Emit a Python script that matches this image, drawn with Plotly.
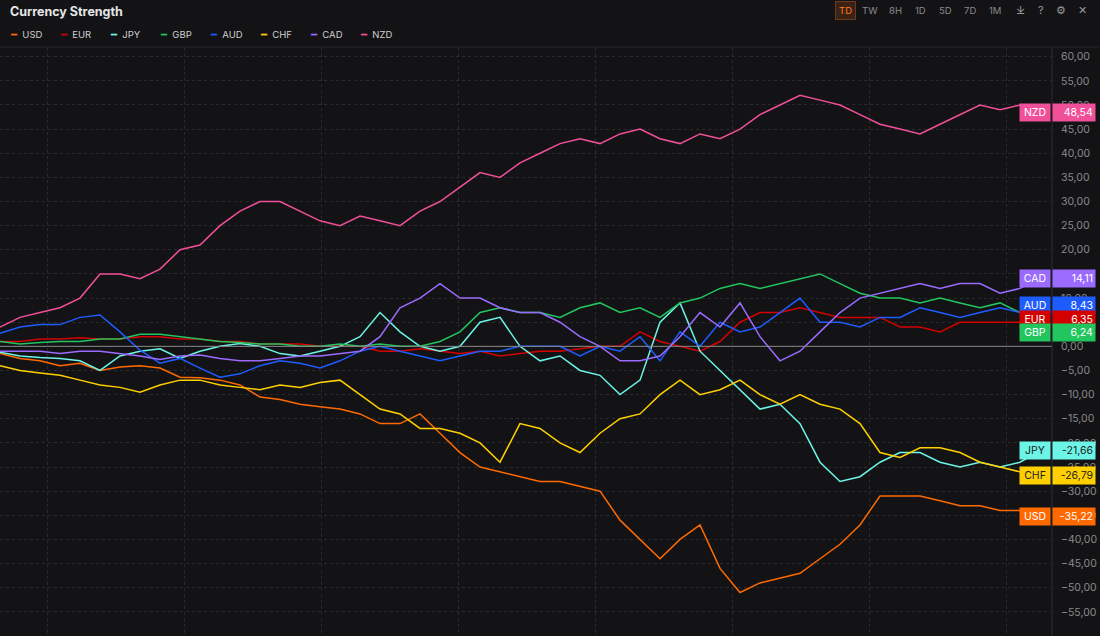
import plotly.graph_objects as go

# sampled every ~20px across the chart
currencies = ["USD", "EUR", "JPY", "GBP", "AUD", "CHF", "CAD", "NZD"]
colors = ["#ff6a00", "#d40000", "#6cf5e6", "#22c55e", "#1f5cff", "#ffd000", "#9b6bff", "#f0509a"]

usd = [-1.5, -2.5, -3, -4, -3.5, -5, -4.3, -4, -4.5, -6.4, -6.5, -7, -8, -10.5, -11, -12, -12.5, -13,
       -14, -16, -16, -14, -18, -22, -25, -26, -27, -28, -28, -29, -30, -36, -40, -44, -40, -37, -46,
       -51, -49, -48, -47, -44, -41, -37, -31, -31, -31, -32, -33, -33, -34, -34, -35.22]
eur = [1, 1, 1.5, 1.5, 1.8, 1.5, 1.5, 2, 2, 1.5, 1.5, 1, 1, 0.5, 0.5, 0.5, 0, 0, 0, -1, -1, -0.5,
       -1, -1.5, -1, -2, -1.5, -1, -1, -0.5, 0, 0, 3, 1, 0, -1, 1, 5, 7, 7, 8, 7, 6, 6, 6, 4, 4, 3,
       5, 5, 5, 5, 6.35]
jpy = [-1.2, -2, -2.3, -2.5, -3, -5, -2, -1, -0.5, -2.5, -1, 0, 0.6, 0, -1.5, -2, -1, 0, 2, 7, 3,
       0, -1, 0, 5, 6, 0, -3, -2, -5, -6, -10, -7, 5, 9, -1, -5, -9, -13, -12, -16, -24, -28, -27,
       -24, -22, -22, -24, -25, -24, -25, -24, -21.66]
gbp = [1, 0.5, 0.8, 1, 1, 1.5, 1.5, 2.5, 2.5, 2, 1.5, 1, 0.8, 0.5, 0.5, 0, 0, 0.5, 0, 0.5, 0, 0,
       1, 3, 7, 8, 7, 7, 6, 8, 9, 7, 8, 6, 9, 10, 12, 13, 12, 13, 14, 15, 13, 11, 10, 10, 9, 10, 9,
       8, 9, 7, 6.24]
aud = [2.7, 4, 4.5, 4.5, 6, 6.5, 3, -0.8, -3.5, -2.5, -4.5, -6.4, -5.7, -4, -3, -3.5, -4.5, -3,
       -1, 0, -1, -2, -3, -2, -1, -1, 0, 0, 0, -2, 0, -1, 2, -3, 3, 0, 5, 3, 4, 7, 10, 5, 5, 4, 6,
       6, 8, 7, 6, 7, 8, 7, 8.43]
chf = [-4, -5, -5.5, -6, -7, -8, -8.5, -9.5, -8, -7, -7, -8, -8.5, -9, -8, -8.5, -7.5, -7, -10,
       -13, -14, -17, -17, -18, -20, -24, -16, -17, -20, -22, -18, -15, -14, -10, -7, -10, -9, -7,
       -10, -12, -10, -12, -13, -16, -22, -23, -21, -21, -22, -24, -25, -26, -26.79]
cad = [-1, -1, -1, -1.5, -1, -1, -1.5, -2, -2.7, -2, -1.8, -2.5, -3, -3, -2.5, -2, -2, -1.5, -1,
       2, 8, 10, 13, 10, 10, 8, 7, 7, 5, 2, 0, -3, -3, -2, 2, 7, 4, 9, 2, -3, -1, 3, 7, 10, 11, 12,
       13, 12, 13, 13, 11, 12, 14.11]
nzd = [4, 6, 7, 8, 10, 15, 15, 14, 16, 20, 21, 25, 28, 30, 30, 28, 26, 25, 27, 26, 25, 28, 30,
       33, 36, 35, 38, 40, 42, 43, 42, 44, 45, 43, 42, 44, 43, 45, 48, 50, 52, 51, 50, 48, 46, 45,
       44, 46, 48, 50, 49, 50, 48.54]
series = [usd, eur, jpy, gbp, aud, chf, cad, nzd]

toolbar = ["TD", "TW", "8H", "1D", "5D", "7D", "1M"]

BG = "#131316"
GRID = "#2a2a2f"
YMIN, YMAX = -60.0, 61.8
W, H = 1100, 636
PLOT_TOP, PLOT_RIGHT = 48, 1052


def px_x(p):
    return p / PLOT_RIGHT


def px_y(p):
    return (H - p) / (H - PLOT_TOP)


fig = go.Figure()
for name, col, vals in zip(currencies, colors, series):
    fig.add_trace(go.Scatter(x=list(range(len(vals))), y=vals, mode="lines", name=name,
                             line=dict(color=col, width=1.5), showlegend=False))

fig.add_hline(y=0, line=dict(color="#8a8a8a", width=1))

ann = []
shapes = []
# header
ann.append(dict(text="<b>Currency Strength</b>", x=px_x(8), y=px_y(11), xref="paper", yref="paper",
                xanchor="left", yanchor="middle", showarrow=False,
                font=dict(size=12.5, color="#e6e6e6")))
px = 8
for name, col in zip(currencies, colors):
    ann.append(dict(text=f"<span style='color:{col}'>━</span>  {name}", x=px_x(px), y=px_y(35),
                    xref="paper", yref="paper", xanchor="left", yanchor="middle", showarrow=False,
                    font=dict(size=9.5, color="#cfcfcf")))
    px += 50
tx = 845
for i, t in enumerate(toolbar):
    ann.append(dict(text=t, x=px_x(tx), y=px_y(10), xref="paper", yref="paper", xanchor="center",
                    yanchor="middle", showarrow=False,
                    font=dict(size=9.5, color="#ff7a1a" if i == 0 else "#8a8a8a"),
                    bgcolor="#3a2214" if i == 0 else None,
                    bordercolor="#6a3a1a" if i == 0 else None, borderpad=3))
    tx += 25
for ic, x in zip(["⤓", "?", "⚙", "✕"], [1020, 1041, 1061, 1082]):
    ann.append(dict(text=ic, x=px_x(x), y=px_y(10), xref="paper", yref="paper", xanchor="center",
                    yanchor="middle", showarrow=False, font=dict(size=11, color="#9a9a9a")))
for yy in [23, 47]:
    shapes.append(dict(type="line", xref="paper", yref="paper", x0=0, x1=px_x(W),
                       y0=px_y(yy), y1=px_y(yy), line=dict(color="#26262b", width=1)))
shapes.append(dict(type="line", xref="paper", yref="paper", x0=1, x1=1, y0=0, y1=1,
                   line=dict(color="#2e2e33", width=1)))

# end-of-line tags, stacked so they do not overlap
gap = 13.5 * (YMAX - YMIN) / (H - PLOT_TOP)
order = sorted(range(len(series)), key=lambda i: -series[i][-1])
prev = None
for i in order:
    v = series[i][-1]
    pos = v if prev is None else min(v, prev - gap)
    prev = pos
    txtcol = "#222" if currencies[i] in ("JPY", "CHF") else "#ffffff"
    ann.append(dict(text=currencies[i], x=1, y=pos, xref="paper", yref="y", xanchor="right",
                    yanchor="middle", showarrow=False, bgcolor=colors[i], borderpad=2,
                    width=26, xshift=-1, font=dict(size=10.5, color=txtcol)))
    ann.append(dict(text=f"{v:.2f}".replace(".", ","), x=1, y=pos, xref="paper", yref="y",
                    xanchor="left", yanchor="middle", showarrow=False, bgcolor=colors[i],
                    borderpad=2, width=38, align="right", font=dict(size=10.5, color=txtcol)))

fig.update_layout(
    width=W, height=H, paper_bgcolor=BG, plot_bgcolor=BG,
    margin=dict(l=0, r=W - PLOT_RIGHT, t=PLOT_TOP, b=0),
    separators=",.",
    font=dict(family="Inter, Roboto, sans-serif"),
    annotations=ann, shapes=shapes,
    xaxis=dict(range=[0, 52.6], showticklabels=False, zeroline=False, tick0=2.35, dtick=6.85,
               showgrid=True, gridcolor=GRID, griddash="dot", gridwidth=1),
    yaxis=dict(range=[YMIN, YMAX], side="right", dtick=5, tickformat=".2f", zeroline=False,
               showgrid=True, gridcolor=GRID, griddash="dot", ticks="", ticklabelstandoff=8,
               tickfont=dict(size=10.5, color="#8a8a8a")),
)

fig.write_html("out.html", config={"displayModeBar": False},
               post_script="document.body.style.margin='0';"
               "document.body.style.background='#131316';")
